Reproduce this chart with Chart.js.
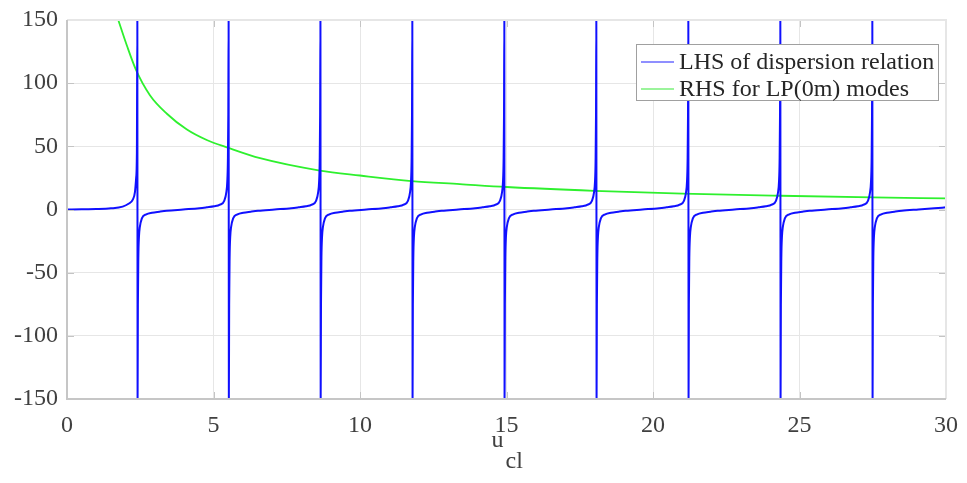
<!DOCTYPE html>
<html>
<head>
<meta charset="utf-8">
<script src="https://cdn.jsdelivr.net/npm/chart.js@4"></script>
<style>
  html, body { margin: 0; padding: 0; background: #fff; }
  canvas { display: block; }
</style>
</head>
<body>
<canvas id="chart" width="967" height="483"></canvas>
<script>
// values
const poles = [2.405, 5.52, 8.654, 11.79, 14.93, 18.07, 21.21, 24.35, 27.49];

// first branch, from 0 up to the first pole
const firstX = [0, 0.5, 1.0, 1.5, 1.9, 2.1, 2.25, 2.32, 2.36, 2.385, 2.401];
const firstY = [0, 0.1, 0.3, 0.9, 2.3, 4.5, 8, 14, 25, 45, 150];

// shape of a branch just after a pole (offset from pole, value)
const fallDx = [0.004, 0.015, 0.03, 0.05, 0.08, 0.15, 0.3, 0.5, 0.75, 1.0];
const fallY = [-150, -75, -38, -22, -14, -7, -3.8, -2.5, -1.7, -1];
// shape just before a pole
const riseDx = [-1.0, -0.75, -0.5, -0.3, -0.15, -0.08, -0.05, -0.03, -0.015, -0.004];
const riseY = [1, 1.7, 2.5, 3.8, 7, 14, 22, 38, 75, 150];

// last piece after the final pole
const tailX = [29.06, 29.6, 30];
const tailY = [0, 0.9, 1.7];

// RHS curve
const rhsX = [1.75, 2.04, 2.355, 2.83, 3.4, 4.08, 4.77, 5.48, 6.59, 8.63, 10, 11.76, 13.41, 15, 18, 21, 24.35, 27.5, 30];
const rhsY = [150, 130, 110.5, 90.5, 76, 63.5, 55, 49, 40.6, 30.8, 26.9, 22.5, 20.1, 17.8, 14.8, 12.6, 10.9, 9.6, 8.8];

const xTicks = [0, 5, 10, 15, 20, 25, 30];
const yTicks = [-150, -100, -50, 0, 50, 100, 150];

const lhs = [];
for (let i = 0; i < firstX.length; i++) lhs.push({x: firstX[i], y: firstY[i]});
for (let p = 0; p < poles.length; p++) {
    const a = poles[p];
    for (let i = 0; i < fallDx.length; i++) lhs.push({x: a + fallDx[i], y: fallY[i]});
    if (p + 1 < poles.length) {
        const b = poles[p + 1];
        lhs.push({x: (a + b) / 2, y: 0});
        for (let i = 0; i < riseDx.length; i++) lhs.push({x: b + riseDx[i], y: riseY[i]});
    } else {
        for (let i = 0; i < tailX.length; i++) lhs.push({x: tailX[i], y: tailY[i]});
    }
}
const rhs = rhsX.map((x, i) => ({x: x, y: rhsY[i]}));

const serif = '"Liberation Serif", "Times New Roman", serif';
const textColor = '#404040';

const boxPlugin = {
    id: 'box',
    afterDraw(chart) {
        const ctx = chart.ctx;
        const a = chart.chartArea;
        const sx = chart.scales.x, sy = chart.scales.y;
        ctx.save();
        // tick marks inside the box
        ctx.strokeStyle = '#c4c4c4';
        ctx.lineWidth = 1;
        ctx.beginPath();
        xTicks.forEach(v => {
            const px = Math.round(sx.getPixelForValue(v)) + 0.5;
            ctx.moveTo(px, a.bottom); ctx.lineTo(px, a.bottom - 7);
            ctx.moveTo(px, a.top); ctx.lineTo(px, a.top + 7);
        });
        yTicks.forEach(v => {
            const py = Math.round(sy.getPixelForValue(v)) + 0.5;
            ctx.moveTo(a.left, py); ctx.lineTo(a.left + 7, py);
            ctx.moveTo(a.right, py); ctx.lineTo(a.right - 7, py);
        });
        ctx.stroke();
        // box
        ctx.strokeStyle = '#e6e6e6';
        ctx.lineWidth = 2;
        ctx.beginPath();
        ctx.moveTo(a.left, a.top); ctx.lineTo(a.right, a.top); ctx.lineTo(a.right, a.bottom);
        ctx.stroke();
        ctx.strokeStyle = '#c6c6c6';
        ctx.beginPath();
        ctx.moveTo(a.left, a.top); ctx.lineTo(a.left, a.bottom); ctx.lineTo(a.right, a.bottom);
        ctx.stroke();

        // legend
        const lx = a.right - 310, ly = a.top + 24, lw = 302, lh = 56;
        ctx.fillStyle = '#fff';
        ctx.fillRect(lx, ly, lw, lh);
        ctx.strokeStyle = '#a0a0a0';
        ctx.lineWidth = 1;
        ctx.strokeRect(lx + 0.5, ly + 0.5, lw, lh);
        ctx.font = '24px ' + serif;
        ctx.textBaseline = 'middle';
        ctx.textAlign = 'left';
        chart.data.datasets.forEach((ds, i) => {
            const cy = ly + 18 + i * 27;
            ctx.strokeStyle = ds.legendColor;
            ctx.lineWidth = 1.5;
            ctx.beginPath();
            ctx.moveTo(lx + 5, cy); ctx.lineTo(lx + 38, cy);
            ctx.stroke();
            ctx.fillStyle = '#262626';
            ctx.fillText(ds.label, lx + 43, cy + 1);
        });

        // x axis title u_cl
        const cx = (a.left + a.right) / 2;
        ctx.fillStyle = textColor;
        ctx.textBaseline = 'alphabetic';
        ctx.font = '24px ' + serif;
        ctx.fillText('u', cx - 15, a.bottom + 48);
        ctx.fillText('cl', cx - 1, a.bottom + 69);
        ctx.restore();
    }
};

new Chart(document.getElementById('chart'), {
    type: 'line',
    data: {
        datasets: [
            {
                label: 'LHS of dispersion relation',
                data: lhs,
                borderColor: '#1010ff',
                legendColor: '#6a6aff',
                borderWidth: 2,
                pointRadius: 0,
                cubicInterpolationMode: 'monotone'
            },
            {
                label: 'RHS for LP(0m) modes',
                data: rhs,
                borderColor: '#2ef02e',
                legendColor: '#7af07a',
                borderWidth: 1.8,
                pointRadius: 0,
                cubicInterpolationMode: 'monotone'
            }
        ]
    },
    options: {
        responsive: false,
        animation: false,
        devicePixelRatio: 1,
        layout: { padding: { top: 20, right: 21, left: 0, bottom: 0 } },
        plugins: { legend: { display: false }, tooltip: { enabled: false } },
        scales: {
            x: {
                type: 'linear',
                min: 0, max: 30,
                afterBuildTicks: s => { s.ticks = xTicks.map(v => ({value: v})); },
                afterFit: s => { s.height = 84; s.paddingLeft = 0; s.paddingRight = 0; },
                grid: { color: '#e6e6e6', drawTicks: false },
                border: { display: false },
                ticks: { color: textColor, font: { family: serif, size: 24 }, padding: 12, maxRotation: 0 }
            },
            y: {
                type: 'linear',
                min: -150, max: 150,
                afterBuildTicks: s => { s.ticks = yTicks.map(v => ({value: v})); },
                afterFit: s => { s.width = 67; s.paddingTop = 0; s.paddingBottom = 0; },
                grid: { color: '#e6e6e6', drawTicks: false },
                border: { display: false },
                ticks: { color: textColor, font: { family: serif, size: 24 }, padding: 9 }
            }
        }
    },
    plugins: [boxPlugin]
});
</script>
</body>
</html>
